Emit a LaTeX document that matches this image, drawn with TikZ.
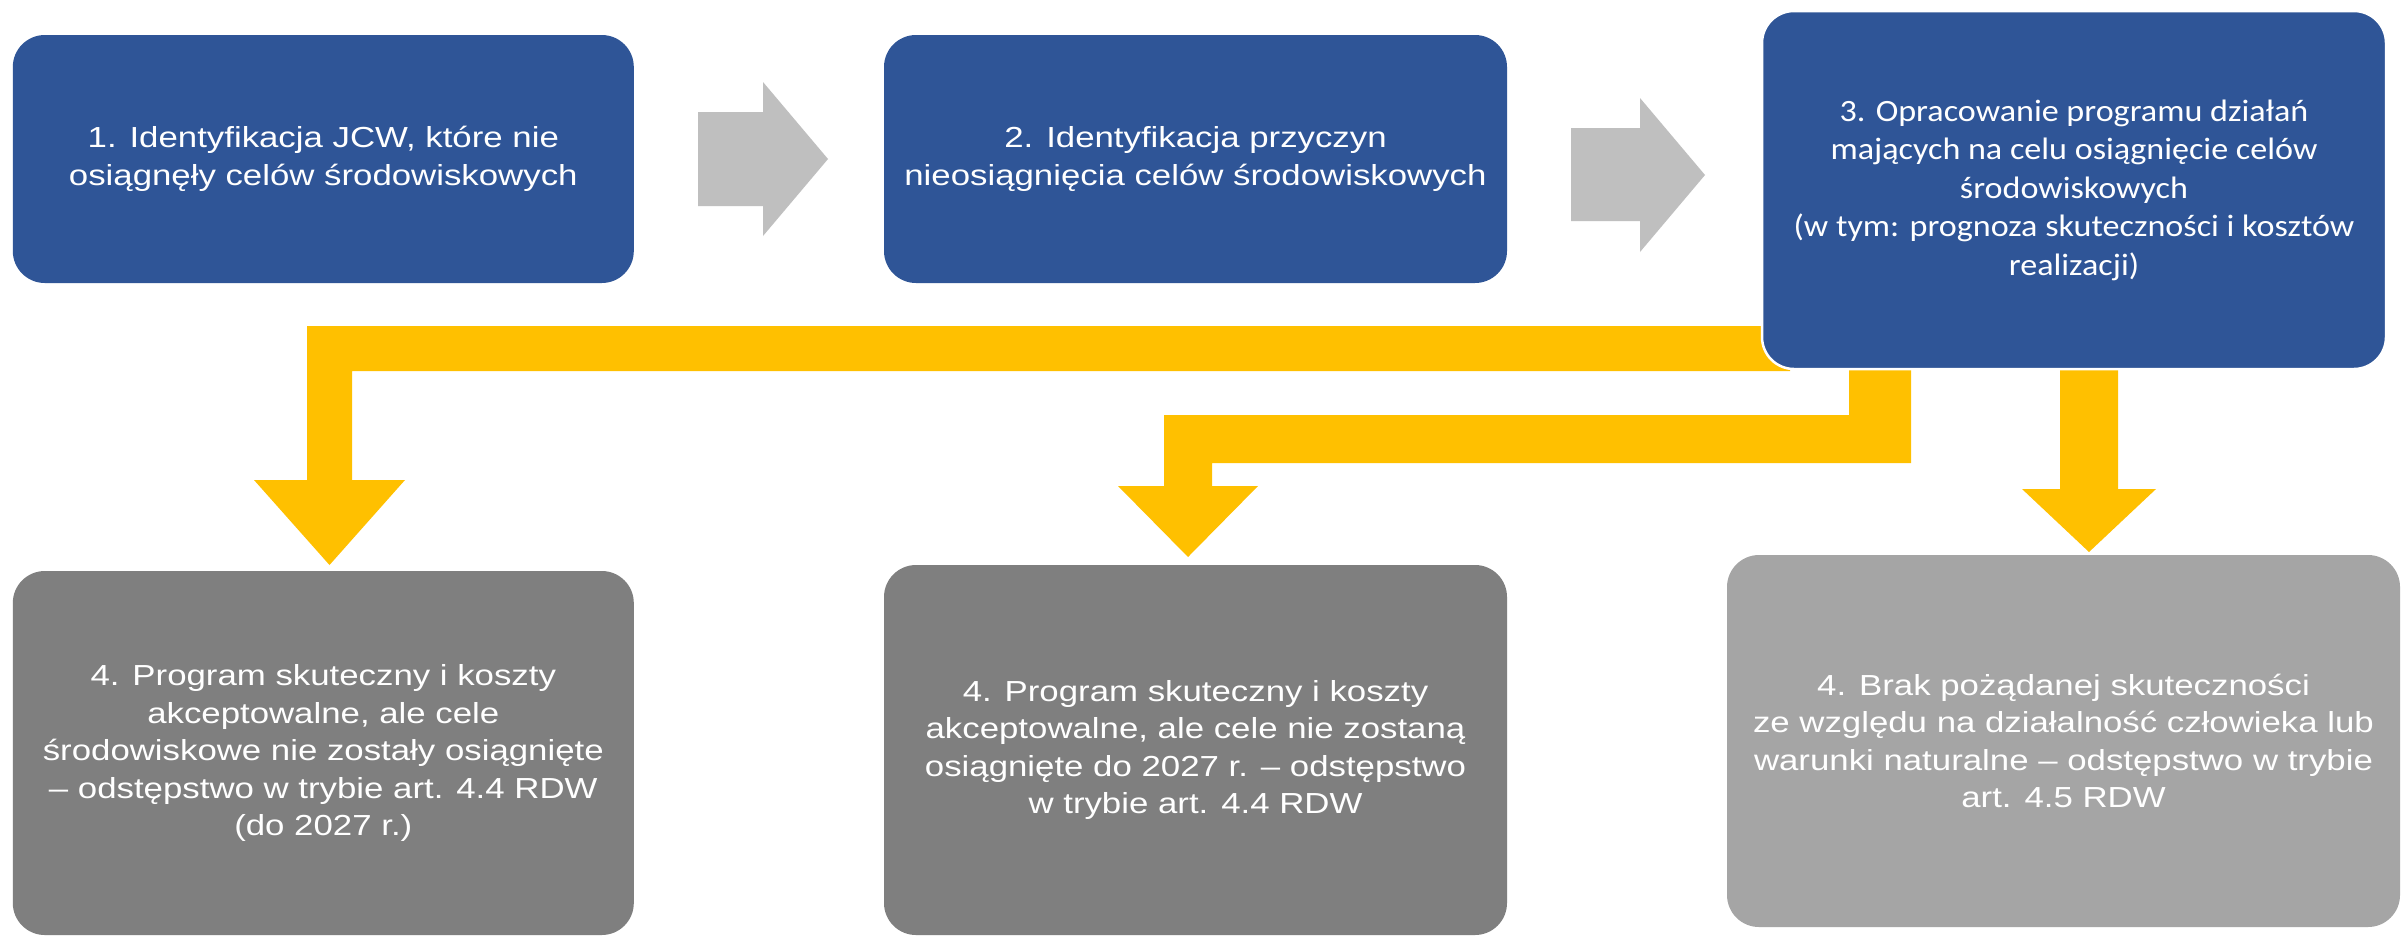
\documentclass[tikz,border=0pt]{standalone}
\usepackage{fontspec}
\newfontfamily\robfont[FakeStretch=1.2]{Liberation Sans}
\newfontfamily\calfont[FakeStretch=1.1]{Carlito}
\definecolor{boxblue}{HTML}{2F5597}
\definecolor{arrowgray}{HTML}{BFBFBF}
\definecolor{darkbox}{HTML}{7F7F7F}
\definecolor{lightbox}{HTML}{A5A5A5}
\definecolor{flowyellow}{HTML}{FFC000}
\tikzset{
  basebox/.style={rectangle, rounded corners=32pt, inner sep=0pt, outer sep=0pt,
    align=center, text=white},
  robtext/.style={font=\robfont\fontsize{29}{37.5}\selectfont},
  bluebox/.style={basebox, fill=boxblue, robtext},
  darkgraybox/.style={basebox, fill=darkbox, robtext},
  lightgraybox/.style={basebox, fill=lightbox, robtext},
  blockarrow/.style={fill=arrowgray},
  yellowflow/.style={fill=flowyellow}
}
\begin{document}
\begin{tikzpicture}[x=1pt, y=-1pt]
\useasboundingbox (0,0) rectangle (2404,938);
\fill[white] (0,0) rectangle (2404,938);

% yellow connectors (behind box 3)
\fill[yellowflow] (307,326) -- (1790,326) -- (1790,371) -- (352,371) -- (352,480)
  -- (405,480) -- (329.5,565) -- (254,480) -- (307,480) -- cycle;
\fill[yellowflow] (1849,369) -- (1911,369) -- (1911,463) -- (1212,463) -- (1212,486)
  -- (1258,486) -- (1188,557) -- (1118,486) -- (1164,486) -- (1164,415)
  -- (1849,415) -- cycle;
\fill[yellowflow] (2060,369) -- (2118,369) -- (2118,489) -- (2156,489) -- (2089,552)
  -- (2022,489) -- (2060,489) -- cycle;

% top row
\node[bluebox, minimum width=621pt, minimum height=248pt] (b1) at (323.3,159)
  {1. Identyfikacja JCW, które nie\\osiągnęły celów środowiskowych};
\node[bluebox, minimum width=623pt, minimum height=248pt] (b2) at (1195.5,159)
  {2. Identyfikacja przyczyn\\nieosiągnięcia celów środowiskowych};
\node[basebox, fill=boxblue, draw=white, line width=2.5pt,
  font=\calfont\fontsize{31}{38.5}\selectfont,
  minimum width=624pt, minimum height=358pt] (b3) at (2074,190)
  {3. Opracowanie programu działań\\mających na celu osiągnięcie celów\\środowiskowych\\(w tym: prognoza skuteczności i kosztów\\realizacji)};

% gray block arrows
\fill[blockarrow] (698,112) -- (763,112) -- (763,82) -- (828,159) -- (763,236)
  -- (763,206) -- (698,206) -- cycle;
\fill[blockarrow] (1571,128) -- (1640,128) -- (1640,98) -- (1705,175) -- (1640,252)
  -- (1640,221) -- (1571,221) -- cycle;

% bottom row
\node[darkgraybox, minimum width=621pt, minimum height=364pt] (c1) at (323.3,753)
  {4. Program skuteczny i koszty\\akceptowalne, ale cele\\środowiskowe nie zostały osiągnięte\\– odstępstwo w trybie art. 4.4 RDW\\(do 2027 r.)};
\node[darkgraybox, minimum width=623pt, minimum height=370pt] (c2) at (1195.5,750)
  {4. Program skuteczny i koszty\\akceptowalne, ale cele nie zostaną\\osiągnięte do 2027 r. – odstępstwo\\w trybie art. 4.4 RDW};
\node[lightgraybox, minimum width=673pt, minimum height=372pt] (c3) at (2063.5,741)
  {4. Brak pożądanej skuteczności\\ze względu na działalność człowieka lub\\warunki naturalne – odstępstwo w trybie\\art. 4.5 RDW};
\end{tikzpicture}
\end{document}
